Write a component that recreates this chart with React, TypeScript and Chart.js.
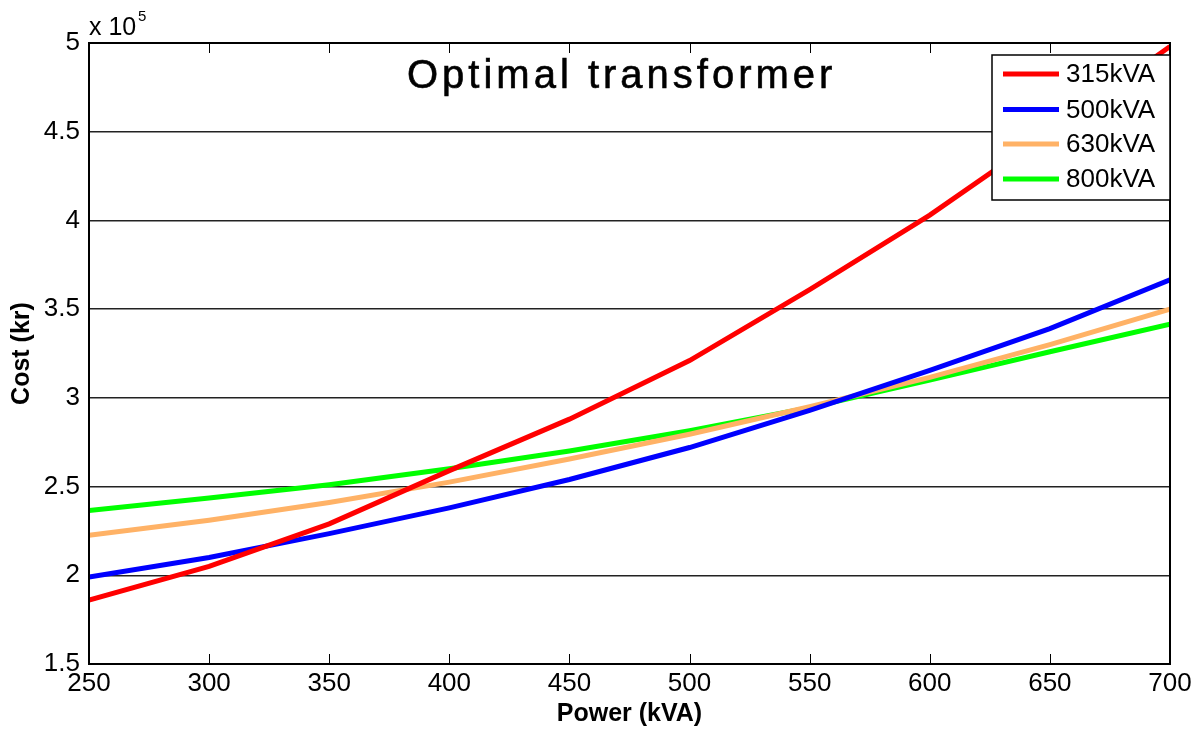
import React, { useEffect, useRef } from "react";
import { Chart, registerables } from "chart.js";

Chart.register(...registerables);

const powerKVA = [250, 300, 350, 400, 450, 500, 550, 600, 650, 700];
const cost315 = [1.86, 2.05, 2.29, 2.59, 2.88, 3.21, 3.61, 4.03, 4.5, 4.98];
const cost500 = [1.99, 2.1, 2.235, 2.38, 2.54, 2.72, 2.93, 3.155, 3.39, 3.665];
const cost630 = [2.225, 2.31, 2.41, 2.525, 2.655, 2.795, 2.95, 3.115, 3.3, 3.5];
const cost800 = [2.365, 2.435, 2.51, 2.6, 2.7, 2.815, 2.945, 3.1, 3.26, 3.415];

const seriesLabels = ["315kVA", "500kVA", "630kVA", "800kVA"];
const seriesColors = ["#ff0000", "#0000ff", "#ffb266", "#00ff00"];
const xTicks = [250, 300, 350, 400, 450, 500, 550, 600, 650, 700];
const yTicks = [1.5, 2, 2.5, 3, 3.5, 4, 4.5, 5];

const chartTitle = "Optimal transformer";
const xTitle = "Power (kVA)";
const yTitle = "Cost (kr)";
const exponentBase = "x 10";
const exponent = "5";

const FONT = "'Liberation Sans', Arial, Helvetica, sans-serif";

const decorPlugin = {
  id: "decor",
  afterDatasetsDraw(chart: any) {
    const { ctx, chartArea, scales } = chart;
    const { left, right, top, bottom } = chartArea;
    ctx.save();
    // frame
    ctx.strokeStyle = "#000";
    ctx.lineWidth = 2;
    ctx.strokeRect(left, top, right - left, bottom - top);
    // inward x ticks
    ctx.lineWidth = 1;
    xTicks.forEach((v) => {
      const x = Math.round(scales.x.getPixelForValue(v)) + 0.5;
      ctx.beginPath();
      ctx.moveTo(x, bottom);
      ctx.lineTo(x, bottom - 10);
      ctx.moveTo(x, top);
      ctx.lineTo(x, top + 10);
      ctx.stroke();
    });
    // title
    ctx.fillStyle = "#000";
    ctx.font = `normal 40px ${FONT}`;
    ctx.textBaseline = "alphabetic";
    ctx.textAlign = "left";
    (ctx as any).letterSpacing = "4px";
    ctx.fillText(chartTitle, 407, 88);
    ctx.strokeStyle = "#000";
    ctx.lineWidth = 0.6;
    ctx.strokeText(chartTitle, 407, 88);
    (ctx as any).letterSpacing = "0px";
    // exponent
    ctx.font = `normal 25px ${FONT}`;
    ctx.fillText(exponentBase, 89, 35);
    ctx.font = `normal 15px ${FONT}`;
    ctx.fillText(exponent, 138, 21);
    // legend
    const lx = 992, ly = 55, lw = 178, lh = 145;
    ctx.fillStyle = "#fff";
    ctx.fillRect(lx, ly, lw, lh);
    ctx.strokeStyle = "#000";
    ctx.lineWidth = 1.5;
    ctx.strokeRect(lx, ly, lw, lh);
    const rows = [74, 109.5, 144, 179];
    chart.data.datasets.forEach((ds: any, i: number) => {
      const y = rows[i];
      ctx.strokeStyle = ds.borderColor;
      ctx.lineWidth = 5;
      ctx.beginPath();
      ctx.moveTo(1003, y);
      ctx.lineTo(1059, y);
      ctx.stroke();
      ctx.fillStyle = "#000";
      ctx.font = `normal 26px ${FONT}`;
      ctx.textBaseline = "middle";
      ctx.fillText(ds.label, 1066, y + 1);
    });
    ctx.restore();
  },
};

export default function App() {
  const ref = useRef<HTMLCanvasElement | null>(null);
  useEffect(() => {
    const prevMargin = document.body.style.margin;
    document.body.style.margin = "0";
    const series = [cost315, cost500, cost630, cost800];
    const chart = new Chart(ref.current as HTMLCanvasElement, {
      type: "line",
      data: {
        datasets: series.map((vals, i) => ({
          label: seriesLabels[i],
          data: powerKVA.map((x, j) => ({ x, y: vals[j] })),
          borderColor: seriesColors[i],
          backgroundColor: seriesColors[i],
          borderWidth: 5,
          pointRadius: 0,
          tension: 0,
          fill: false,
        })),
      },
      options: {
        responsive: false,
        animation: false,
        devicePixelRatio: 1,
        layout: { padding: { left: 0, top: 43, right: 32, bottom: 0 } },
        plugins: {
          legend: { display: false },
          title: { display: false },
          tooltip: { enabled: false },
        },
        scales: {
          x: {
            type: "linear",
            min: 250,
            max: 700,
            afterBuildTicks: (axis: any) => {
              axis.ticks = xTicks.map((v) => ({ value: v }));
            },
            afterFit: (axis: any) => {
              axis.height = 67;
            },
            ticks: {
              color: "#000",
              font: { family: FONT, size: 26 },
              padding: 4,
              maxRotation: 0,
              autoSkip: false,
              callback: (v: any) => String(v),
            },
            grid: { display: false, drawTicks: false },
            border: { display: true, color: "#000", width: 2 },
            title: {
              display: true,
              text: xTitle,
              color: "#000",
              font: { family: FONT, size: 25, weight: "bold" },
              padding: { top: 0, bottom: 2 },
            },
          },
          y: {
            type: "linear",
            min: 1.5,
            max: 5,
            afterBuildTicks: (axis: any) => {
              axis.ticks = yTicks.map((v) => ({ value: v }));
            },
            afterFit: (axis: any) => {
              axis.width = 89;
            },
            ticks: {
              color: "#000",
              font: { family: FONT, size: 26 },
              padding: 9,
              autoSkip: false,
              callback: (v: any) => String(v),
            },
            grid: { display: true, drawTicks: false, color: "#222", lineWidth: 1.5 },
            border: { display: true, color: "#000", width: 2 },
            title: {
              display: true,
              text: yTitle,
              color: "#000",
              font: { family: FONT, size: 25, weight: "bold" },
              padding: { top: 7, bottom: 0 },
            },
          },
        },
      },
      plugins: [decorPlugin],
    } as any);
    return () => {
      chart.destroy();
      document.body.style.margin = prevMargin;
    };
  }, []);
  return (
    <div style={{ position: "absolute", left: 0, top: 0, width: 1202, height: 731, background: "#fff" }}>
      <canvas ref={ref} width={1202} height={731} style={{ display: "block" }} />
    </div>
  );
}
